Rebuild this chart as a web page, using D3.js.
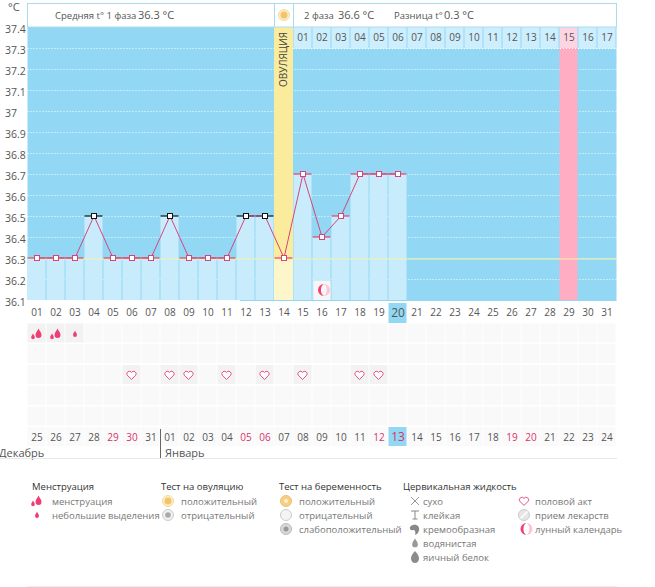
<!DOCTYPE html>
<html><head><meta charset="utf-8">
<script src="https://cdn.jsdelivr.net/npm/d3@7"></script>
<style>
html,body{margin:0;padding:0;background:#fff}
svg{display:block}
text{font-family:"Open Sans","DejaVu Sans",sans-serif}
</style></head><body><svg id="c" width="655" height="587"></svg>
<script>
const dayNumbers=d3.range(1,32);
const temps=[36.3,36.3,36.3,36.5,36.3,36.3,36.3,36.5,36.3,36.3,36.3,36.5,36.5,36.3,36.7,36.4,36.5,36.7,36.7,36.7];
const outliers=[4,8,12,13];
const tempTicks=[37.4,37.3,37.2,37.1,37,36.9,36.8,36.7,36.6,36.5,36.4,36.3,36.2,36.1];
const coverLine=36.3;
const ovulationDay=14, todayDay=20, peakDay=29, moonDay=16;
const topLabels=["","","","","","","","","","","","","","","01","02","03","04","05","06","07","08","09","10","11","12","13","14","15","16","17"];
const dayLabels=dayNumbers.map(d=>String(d).padStart(2,"0"));
const dateLabels=["25","26","27","28","29","30","31","01","02","03","04","05","06","07","08","09","10","11","12","13","14","15","16","17","18","19","20","21","22","23","24"];
const redDates=[4,5,11,12,18,19,25,26];
const menstruation=[[1,"big"],[2,"big"],[3,"small"]];
const intercourse=[6,8,9,11,13,15,18,19];
const legendGroups=[
 {title:"Менструация",items:[["менструация","drops"],["небольшие выделения","drop"]]},
 {title:"Тест на овуляцию",items:[["положительный","ovuPos"],["отрицательный","ovuNeg"]]},
 {title:"Тест на беременность",items:[["положительный","pregPos"],["отрицательный","pregNeg"],["слабоположительный","pregWeak"]]},
 {title:"Цервикальная жидкость",items:[["сухо","dry"],["клейкая","sticky"],["кремообразная","creamy"],["водянистая","watery"],["яичный белок","egg"]]},
 {title:"",items:[["половой акт","heart"],["прием лекарств","pill"],["лунный календарь","moon"]]}
];
const legendX=[[32,37,52],[161,168,181],[279,286,299],[403,415,423],[0,524,535]];

const svg=d3.select("#c");
const x=d3.scaleBand().domain(dayNumbers).range([27.5,616.5]);
const y=d3.scaleLinear().domain([36.1,37.4]).range([300,27]);
const cx=d=>x(d)+9.5;
const BLUE="#92d8f5",LIGHT="#c9ecfd",TXT="#555",RED="#d9336a";

function dropPath(s){return `M0 ${-5*s}C${1*s} ${-2.5*s} ${3*s} ${-1*s} ${3*s} ${1.5*s}A${3*s} ${3*s} 0 0 1 ${-3*s} ${1.5*s}C${-3*s} ${-1*s} ${-1*s} ${-2.5*s} 0 ${-5*s}Z`;}
const heartPath="M0 4.5L-4.2 0.2A2.4 2.4 0 0 1 0 -2.6A2.4 2.4 0 0 1 4.2 0.2Z";
function icon(g,kind,px,py){
 const t=g.append("g").attr("transform",`translate(${px},${py})`);
 const circ=(r,f,s)=>t.append("circle").attr("r",r).attr("fill",f).attr("stroke",s||"none");
 switch(kind){
  case "drops":
   t.append("path").attr("d",dropPath(1)).attr("fill","#ee3f74").attr("transform","translate(1.5,-0.5)");
   t.append("path").attr("d",dropPath(.6)).attr("fill","#ee3f74").attr("transform","translate(-4,2.5)");break;
  case "drop":
   t.append("path").attr("d",dropPath(.65)).attr("fill","#ee3f74");break;
  case "ovuPos": circ(5.5,"#fdeec9","#f3dca0");circ(3.5,"#f4c469");break;
  case "ovuNeg": circ(5.5,"#f0f0f0","#ccc");circ(2.8,"#aaa");break;
  case "pregPos": circ(5.5,"#f7cf82","#f0c070");circ(2,"#fff2d0");break;
  case "pregNeg": circ(5.5,"#f4f4f4","#ccc");break;
  case "pregWeak": circ(5.5,"#d8d8d8","#bbb");circ(2.5,"#999");break;
  case "dry":
   t.append("path").attr("d","M-4 -4L4 4M4 -4L-4 4").attr("stroke","#999").attr("fill","none");break;
  case "sticky":
   t.append("path").attr("d","M-4 -4H4M0 -4V4M-2.5 4H2.5").attr("stroke","#888").attr("fill","none");break;
  case "creamy":
   t.append("path").attr("d","M-4 -3A4.5 3.5 0 0 1 4 -1C4.5 2 3 5 0 6C1 3 0 1 -2 1A2 2 0 0 1 -4 -3Z").attr("fill","#888");break;
  case "watery":
   t.append("path").attr("d",dropPath(.95)).attr("fill","#999");break;
  case "egg":
   t.append("path").attr("d","M0 -6C2.5 -3.5 4 -1 4 1.5A4 4.5 0 0 1 -4 1.5C-4 -1 -2.5 -3.5 0 -6Z").attr("fill","#8c8c8c");break;
  case "heart":
   t.append("path").attr("d",heartPath).attr("fill","#fff").attr("stroke","#e8517f").attr("stroke-width",1);break;
  case "pill":
   circ(5.5,"#e6e6e6","#ccc");
   t.append("path").attr("d","M-3.5 3.5L3.5 -3.5").attr("stroke","#fff").attr("stroke-width",1.5);break;
  case "moon":
   t.append("path").attr("d","M2.5 -6A6 6 0 1 0 2.5 6A5 6.5 0 0 1 2.5 -6Z").attr("fill","#ef3f74");
   t.append("path").attr("d","M2.5 -6A6 6 0 0 1 2.5 6A4.5 6.5 0 0 0 2.5 -6Z").attr("fill","#fbc5d5");break;
 }
}

// plot background
svg.append("rect").attr("x",27.5).attr("y",y(37.4)).attr("width",589).attr("height",273).attr("fill",BLUE);
// grid
svg.append("g").selectAll("line").data(tempTicks.filter(t=>t<37.4&&t>36.1)).join("line")
 .attr("x1",27.5).attr("x2",616.5).attr("y1",d=>y(d)+.5).attr("y2",d=>y(d)+.5)
 .attr("stroke","#fff").attr("stroke-dasharray","1 2").attr("stroke-opacity",.95);
svg.append("line").attr("x1",240).attr("x2",616.5).attr("y1",300.5).attr("y2",300.5).attr("stroke",BLUE);

// ovulation + peak columns
svg.append("rect").attr("x",x(ovulationDay)-.5).attr("y",27).attr("width",19).attr("height",y(coverLine)-27).attr("fill","#fbec9d");
svg.append("rect").attr("x",x(ovulationDay)-.5).attr("y",y(coverLine)).attr("width",19).attr("height",300-y(coverLine)).attr("fill","#fdf6cb");
svg.append("rect").attr("x",x(peakDay)).attr("y",48).attr("width",18).attr("height",252).attr("fill","#feadc3");

// top day cells
svg.append("g").selectAll("rect").data(dayNumbers.filter(d=>topLabels[d-1])).join("rect")
 .attr("x",d=>x(d)).attr("y",27).attr("width",18).attr("height",21)
 .attr("fill",d=>d===peakDay?"#fdd5e2":"#cdeefd");
svg.append("g").selectAll("text").data(dayNumbers.filter(d=>topLabels[d-1])).join("text")
 .attr("x",cx).attr("y",40.5).attr("text-anchor","middle").attr("font-size",10).attr("fill",TXT).text(d=>topLabels[d-1]);
svg.append("g").selectAll("line").data(d3.range(48,49)).join("line").attr("x1",293).attr("x2",616.5).attr("y1",48.5).attr("y2",48.5).attr("stroke","#fff").attr("stroke-dasharray","1 2");

// bars
svg.append("g").selectAll("rect").data(temps).join("rect")
 .attr("x",(d,i)=>x(i+1)).attr("y",d=>y(d)).attr("width",18)
 .attr("height",d=>300-y(d))
 .attr("fill",LIGHT).attr("fill-opacity",(d,i)=>i+1===ovulationDay?0:1);

// moon cell
svg.append("rect").attr("x",x(moonDay)+1).attr("y",281).attr("width",17).attr("height",19).attr("fill","#f6f6f6");
icon(svg,"moon",cx(moonDay)-.5,290);

// cover line
svg.append("line").attr("x1",27.5).attr("x2",616.5).attr("y1",y(coverLine)+1).attr("y2",y(coverLine)+1).attr("stroke","#f4f2a8").attr("stroke-width",1.2);

// dashes, line, markers
const isOut=i=>outliers.includes(i+1);
svg.append("g").selectAll("line").data(temps).join("line")
 .attr("x1",(d,i)=>x(i+1)).attr("x2",(d,i)=>x(i+1)+18).attr("y1",d=>y(d)).attr("y2",d=>y(d))
 .attr("stroke",(d,i)=>isOut(i)?"#111":"#e2456a").attr("stroke-width",1.2);
svg.append("path").datum(temps)
 .attr("d",d3.line().x((d,i)=>cx(i+1)).y(d=>y(d)))
 .attr("fill","none").attr("stroke","#d6457a").attr("stroke-width",1);
svg.append("g").selectAll("rect").data(temps).join("rect")
 .attr("x",(d,i)=>cx(i+1)-2.5).attr("y",d=>y(d)-2.5).attr("width",5).attr("height",5)
 .attr("fill","#fff").attr("stroke",(d,i)=>isOut(i)?"#111":"#d6457a").attr("stroke-width",1);

// header
const hdr=[[27.5,247],[274.5,19],[293.5,323]];
svg.append("g").selectAll("rect").data(hdr).join("rect")
 .attr("x",d=>d[0]).attr("y",3.5).attr("width",d=>d[1]).attr("height",23.5)
 .attr("fill","#fff").attr("stroke","#aadcf0");
icon(svg,"ovuPos",284,15);
function hText(xp,t,size,col){svg.append("text").attr("x",xp).attr("y",19).attr("font-size",size).attr("fill",col||"#555").text(t);}
hText(55,"Средняя t° 1 фаза",9.5);hText(138,"36.3 °С",11);
hText(304,"2 фаза",9.5);hText(338,"36.6 °С",11);
hText(394,"Разница t°",9.5);hText(444,"0.3 °С",11);
svg.append("text").attr("transform",`translate(287,87) rotate(-90)`).attr("font-size",10).attr("fill","#444").text("ОВУЛЯЦИЯ");

// y axis
const ax=svg.append("g").attr("transform","translate(27,2)")
 .call(d3.axisLeft(y).tickValues(tempTicks).tickSize(0).tickFormat(d=>String(+d.toFixed(1))));
ax.select(".domain").remove();
ax.selectAll("text").attr("text-anchor","start").attr("x",-22).attr("dy",".35em").attr("font-size",10.5).attr("font-family",'"Open Sans"').attr("fill",TXT);
svg.append("text").attr("x",8).attr("y",11).attr("font-size",11).attr("fill",TXT).text("°С");

// top date row
svg.append("rect").attr("x",x(todayDay)).attr("y",303).attr("width",18).attr("height",20).attr("fill",BLUE);
svg.append("g").selectAll("text").data(dayNumbers).join("text")
 .attr("x",cx).attr("y",d=>d===todayDay?317:316).attr("text-anchor","middle")
 .attr("font-size",d=>d===todayDay?12:10).attr("fill",TXT).text(d=>dayLabels[d-1]);

// events grid
const rowTops=[323.5,344,365,386,406.5];
const rows=svg.append("g");
rowTops.forEach((t,r)=>{
 rows.append("g").selectAll("rect").data(dayNumbers).join("rect")
  .attr("x",d=>x(d)).attr("y",t).attr("width",18).attr("height",19)
  .attr("fill",d=>{
    if(r===0&&menstruation.some(m=>m[0]===d))return "#f2f2f2";
    if(r===2&&intercourse.includes(d))return "#f2f2f2";
    return "#f9f9f9";});
});
menstruation.forEach(([d,k])=>icon(svg,k==="big"?"drops":"drop",cx(d),334));
intercourse.forEach(d=>icon(svg,"heart",cx(d)-.5,375));

// bottom date row
svg.append("g").selectAll("rect").data(dayNumbers).join("rect")
 .attr("x",d=>x(d)).attr("y",427).attr("width",18).attr("height",19)
 .attr("fill",d=>d===todayDay?BLUE:"#fafafa");
svg.append("g").selectAll("text").data(dayNumbers).join("text")
 .attr("x",cx).attr("y",d=>d===todayDay?441:441).attr("text-anchor","middle")
 .attr("font-size",d=>d===todayDay?12:10)
 .attr("fill",(d,i)=>redDates.includes(i)?RED:TXT)
 .text((d,i)=>dateLabels[i]);
svg.append("line").attr("x1",160.5).attr("x2",160.5).attr("y1",429).attr("y2",458).attr("stroke","#666");
svg.append("text").attr("x",-1).attr("y",457).attr("font-size",11).attr("fill",TXT).text("Декабрь");
svg.append("text").attr("x",165).attr("y",457).attr("font-size",11).attr("fill",TXT).text("Январь");
svg.append("line").attr("x1",0).attr("x2",617).attr("y1",458.5).attr("y2",458.5).attr("stroke","#e8e8e8");
svg.append("line").attr("x1",27).attr("x2",617).attr("y1",586.5).attr("y2",586.5).attr("stroke","#eee");

// legend
legendGroups.forEach((g,i)=>{
 const [tx,ix,lx]=legendX[i];
 if(g.title)svg.append("text").attr("x",tx).attr("y",490).attr("font-size",9.5).attr("fill","#333").text(g.title);
 g.items.forEach((it,j)=>{
  const yy=501+14*j;
  icon(svg,it[1],ix,yy);
  svg.append("text").attr("x",lx).attr("y",yy+3.5).attr("font-size",9.5).attr("fill","#777").text(it[0]);
 });
});
</script></body></html>
